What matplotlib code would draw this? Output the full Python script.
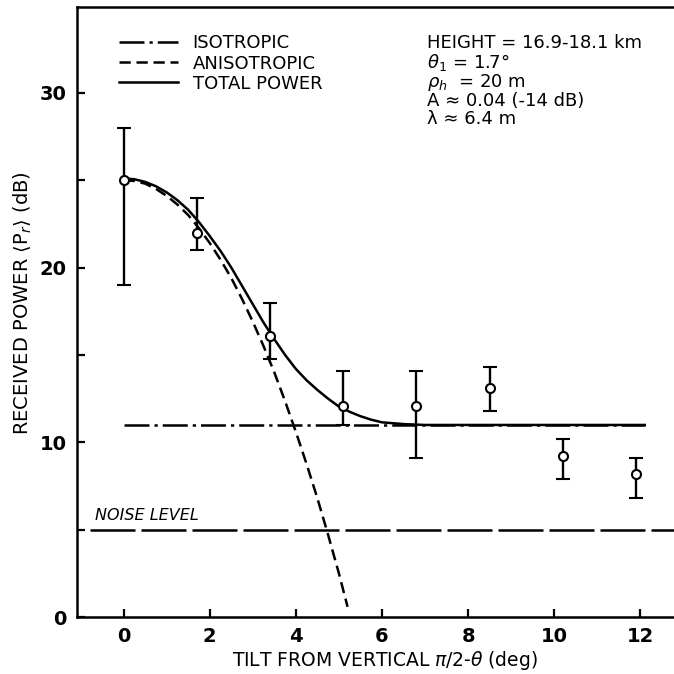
import matplotlib
matplotlib.use('Agg')
import matplotlib.pyplot as plt

# measured points (tilt in deg, received power in dB)
tilt = [0.0, 1.7, 3.4, 5.1, 6.8, 8.5, 10.2, 11.9]
power = [25.0, 22.0, 16.1, 12.1, 12.1, 13.1, 9.2, 8.2]
err_hi = [28.0, 24.0, 18.0, 14.1, 14.1, 14.3, 10.2, 9.1]
err_lo = [19.0, 21.0, 14.8, 11.0, 9.1, 11.8, 7.9, 6.8]

# theory curves
aniso_x = [0, 0.25, 0.5, 0.75, 1.0, 1.25, 1.5, 1.75, 2.0, 2.25, 2.5, 2.75, 3.0,
           3.25, 3.5, 3.75, 4.0, 4.25, 4.5, 4.75, 5.0, 5.2]
aniso_y = [25.0, 24.95, 24.8, 24.5, 24.1, 23.6, 23.0, 22.25, 21.4, 20.45, 19.4, 18.2,
           16.9, 15.5, 14.0, 12.35, 10.6, 8.75, 6.8, 4.7, 2.5, 0.6]
total_x = [0, 0.25, 0.5, 0.75, 1.0, 1.25, 1.5, 1.75, 2.0, 2.25, 2.5, 2.75, 3.0,
           3.25, 3.5, 3.75, 4.0, 4.25, 4.5, 4.75, 5.0, 5.25, 5.5, 5.75, 6.0, 6.5, 7.0, 12.1]
total_y = [25.1, 25.05, 24.9, 24.65, 24.3, 23.85, 23.3, 22.6, 21.8, 20.95, 20.0, 18.95,
           17.9, 16.85, 15.9, 15.0, 14.2, 13.55, 13.0, 12.5, 12.05, 11.75, 11.5, 11.3,
           11.15, 11.05, 11.0, 11.0]
iso_x = [0, 12.1]
iso_y = [11.0, 11.0]
noise_level = 5.0

xticks = [0, 2, 4, 6, 8, 10, 12]
yticks = [0, 10, 20, 30]
yminor = [5, 15, 25]

info = ["HEIGHT = 16.9-18.1 km",
        r"$\theta_1$ = 1.7°",
        r"$\rho_h$  = 20 m",
        "A ≈ 0.04 (-14 dB)",
        "λ ≈ 6.4 m"]

fig = plt.figure(figsize=(6.74, 6.74), dpi=100)
ax = fig.add_axes([0.1138, 0.0841, 0.8862, 0.9055])

lw = 1.8
iso_line, = ax.plot(iso_x, iso_y, color='black', lw=lw, dashes=(10, 2, 1.3, 2),
                    label='ISOTROPIC')
aniso_line, = ax.plot(aniso_x, aniso_y, color='black', lw=lw, dashes=(4.5, 2.3),
                      label='ANISOTROPIC')
total_line, = ax.plot(total_x, total_y, color='black', lw=lw, label='TOTAL POWER')
ax.axhline(noise_level, xmin=0.022, color='black', lw=lw, dashes=(18, 2.4))
ax.text(-0.67, noise_level + 0.4, 'NOISE LEVEL', fontsize=11.5, style='italic',
        ha='left', va='bottom')

lower = [p - l for p, l in zip(power, err_lo)]
upper = [h - p for p, h in zip(power, err_hi)]
ax.errorbar(tilt, power, yerr=[lower, upper], fmt='o', color='black', ecolor='black',
            elinewidth=1.7, capsize=5, capthick=1.7, markersize=6.5,
            markerfacecolor='white', markeredgewidth=1.5, zorder=5)

ax.set_xlim(-1.09, 12.78)
ax.set_ylim(0, 34.9)
ax.set_xticks(xticks)
ax.set_yticks(yticks)
ax.set_yticks(yminor, minor=True)
ax.tick_params(axis='both', which='both', direction='in', length=6, width=1.6,
               labelsize=14, pad=7)
for lab in ax.get_xticklabels() + ax.get_yticklabels():
    lab.set_fontweight('bold')

for s in ['left', 'bottom', 'top']:
    ax.spines[s].set_linewidth(1.8)
ax.spines['right'].set_visible(False)

ax.set_xlabel(r'TILT FROM VERTICAL $\pi$/2-$\theta$ (deg)', fontsize=13.5)
ax.set_ylabel(r'RECEIVED POWER $\langle$P$_r\rangle$ (dB)', fontsize=14)
ax.xaxis.set_label_coords(0.516, -0.052)
ax.yaxis.set_label_coords(-0.072, 0.515)

ax.legend(handles=[iso_line, aniso_line, total_line], loc='upper left',
          bbox_to_anchor=(0.058, 0.967), frameon=False, fontsize=13,
          handlelength=3.3, handletextpad=0.8, labelspacing=0.12, borderaxespad=0)

ax.text(0.587, 0.955, "\n".join(info), transform=ax.transAxes, fontsize=13,
        ha='left', va='top', linespacing=0.95)

fig.savefig('out.png', dpi=100)
